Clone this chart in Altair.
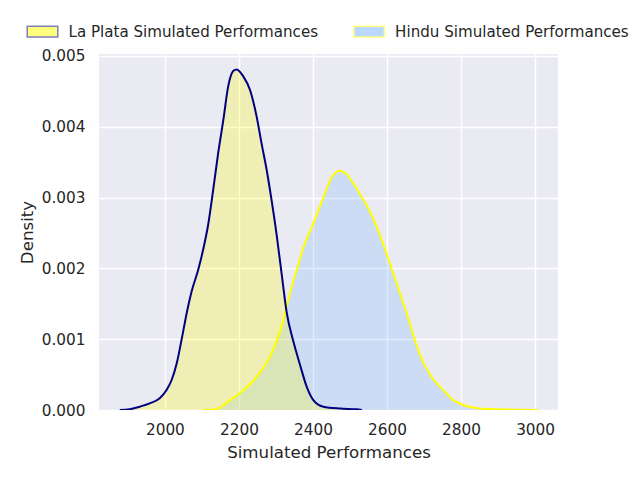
import altair as alt
import pandas as pd

series_names = ["La Plata Simulated Performances", "Hindu Simulated Performances"]

la_plata_x = [1878, 1905, 1932, 1959, 1986, 2004, 2018, 2032, 2045, 2059, 2072, 2090,
              2104, 2117, 2131, 2144, 2158, 2171, 2185, 2194, 2212, 2230, 2248, 2261,
              2275, 2288, 2302, 2315, 2329, 2347, 2365, 2383, 2401, 2428, 2473, 2518, 2532]
la_plata_y = [0.0, 0.00001, 0.000047, 0.000094, 0.000165, 0.00028, 0.00042, 0.00066,
              0.00099, 0.00137, 0.00167, 0.00198, 0.00228, 0.00262, 0.00313, 0.00363,
              0.0041, 0.00457, 0.00479, 0.00481, 0.00471, 0.00452, 0.00414, 0.00377,
              0.00339, 0.00297, 0.00247, 0.00194, 0.00138, 0.00097, 0.00064, 0.00033,
              0.00014, 0.000047, 0.00002, 0.00001, 0.0]

hindu_x = [2104, 2140, 2158, 2176, 2203, 2248, 2288, 2306, 2320, 2338, 2356, 2378,
           2396, 2428, 2450, 2473, 2491, 2509, 2527, 2554, 2581, 2617, 2653, 2689,
           2716, 2752, 2779, 2806, 2851, 2900, 2941, 3010]
hindu_y = [0.0, 0.00001, 0.00007, 0.00014, 0.00024, 0.00047, 0.0008, 0.00104, 0.00127,
           0.00165, 0.00198, 0.00235, 0.00257, 0.0030, 0.00328, 0.00338, 0.00333, 0.0032,
           0.00305, 0.0028, 0.00247, 0.00193, 0.00137, 0.00078, 0.0005, 0.00028,
           0.00014, 0.00007, 0.00002, 0.00001, 0.000005, 0.0]

x_ticks = [2000, 2200, 2400, 2600, 2800, 3000]
y_ticks = [0.0, 0.001, 0.002, 0.003, 0.004, 0.005]

df = pd.concat([
    pd.DataFrame({"x": la_plata_x, "y": la_plata_y, "series": series_names[0]}),
    pd.DataFrame({"x": hindu_x, "y": hindu_y, "series": series_names[1]}),
], ignore_index=True)

FONT = "DejaVu Sans"
TXT = "#262626"

xenc = alt.X("x:Q", scale=alt.Scale(domain=[1822, 3062], nice=False, zero=False),
             axis=alt.Axis(values=x_ticks, title="Simulated Performances", format="d",
                           labelPadding=12, titleY=47.5, titleBaseline="alphabetic"))
yenc = alt.Y("y:Q", scale=alt.Scale(domain=[0, 0.005028], nice=False),
             axis=alt.Axis(values=y_ticks, title="Density", format=".3f",
                           labelPadding=14, titleX=-67, titleBaseline="alphabetic"))

legend = alt.Legend(title=None, orient="none", legendX=-73, legendY=-39,
                    direction="horizontal", symbolType="M-1,-0.35H1V0.35H-1Z",
                    symbolSize=936, symbolStrokeWidth=1.5, symbolOpacity=0.5,
                    labelOffset=9.5, columnPadding=31.6, labelFontSize=15.1,
                    labelFont=FONT, labelColor=TXT, labelLimit=0, padding=0)

fill_scale = alt.Scale(domain=series_names, range=["#FFFF00", "#77B5FF"])
stroke_scale = alt.Scale(domain=series_names, range=["#000080", "#FFFF00"])

base = alt.Chart(df)

def area(name):
    return base.transform_filter(alt.datum.series == name).mark_area(
        interpolate="monotone", fillOpacity=0.25).encode(
        x=xenc, y=yenc,
        fill=alt.Fill("series:N", scale=fill_scale, legend=legend))

def line(name):
    return base.transform_filter(alt.datum.series == name).mark_line(
        interpolate="monotone", strokeWidth=2, clip=True).encode(
        x=xenc, y=yenc,
        stroke=alt.Stroke("series:N", scale=stroke_scale, legend=legend))

chart = alt.layer(
    area(series_names[1]), area(series_names[0]),
    line(series_names[1]), line(series_names[0]),
).properties(
    width=459, height=356,
    autosize=alt.AutoSizeParams(type="none"),
    padding={"left": 91, "top": 46, "right": 74, "bottom": 62},
    background="white",
).configure_view(
    fill="#EAEAF2", strokeWidth=0,
).configure_axis(
    grid=True, gridColor="white", gridWidth=1.4, domain=False, ticks=False, tickSize=0,
    labelFont=FONT, labelFontSize=15.28, labelColor=TXT,
    titleFont=FONT, titleFontSize=16.67, titleColor=TXT, titleFontWeight="normal",
)

chart.save("out.html", embed_options={"renderer": "svg", "actions": False})
